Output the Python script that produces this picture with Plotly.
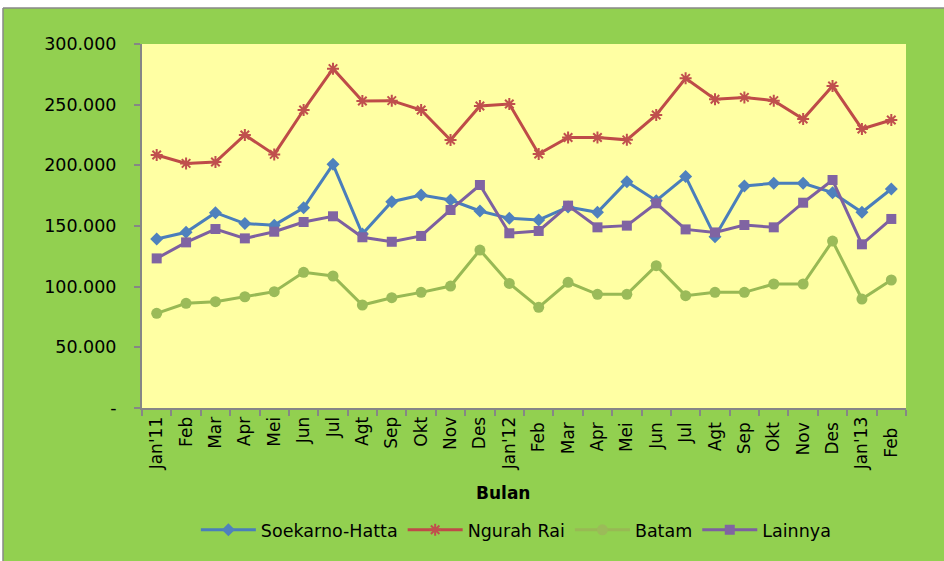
import plotly.graph_objects as go

bulan = ["Jan'11", "Feb", "Mar", "Apr", "Mei", "Jun", "Jul", "Agt", "Sep", "Okt", "Nov", "Des",
         "Jan'12", "Feb ", "Mar ", "Apr ", "Mei ", "Jun ", "Jul ", "Agt ", "Sep ", "Okt ", "Nov ", "Des ",
         "Jan'13", "Feb  "]

soekarno_hatta = [139300, 144800, 161000, 152000, 150700, 165000, 200800, 143400, 170000, 175500, 171400, 162400,
                  156300, 155000, 165700, 161300, 186500, 170900, 190700, 141200, 183000, 185200, 185200, 177500,
                  161300, 180500]
ngurah_rai = [208500, 201600, 202700, 225000, 209000, 245600, 279700, 253000, 253300, 245600, 220900, 248900,
              250500, 209300, 223000, 223000, 221000, 241500, 271700, 254400, 256000, 253300, 238200, 265400,
              230000, 237400]
batam = [78000, 86300, 87600, 91700, 95900, 111800, 108800, 84900, 90900, 95300, 100500, 130200,
         102700, 83000, 103600, 93700, 93700, 117300, 92600, 95300, 95300, 102200, 102200, 137600,
         89800, 105500]
lainnya = [123300, 136500, 147500, 139800, 145300, 153300, 158000, 140700, 137000, 141800, 163200, 183800,
           144000, 145900, 166800, 148900, 150300, 168700, 147200, 144700, 150800, 148900, 169200, 187900,
           134900, 155800]

y_tick_vals = [0, 50000, 100000, 150000, 200000, 250000, 300000]
y_tick_text = ["-", "50.000", "100.000", "150.000", "200.000", "250.000", "300.000"]

FONT = "DejaVu Sans"

fig = go.Figure()
fig.add_trace(go.Scatter(x=bulan, y=soekarno_hatta, name="Soekarno-Hatta", mode="lines+markers",
                         line=dict(color="#4A7EBB", width=3),
                         marker=dict(symbol="diamond", size=10, color="#4F81BD")))
fig.add_trace(go.Scatter(x=bulan, y=ngurah_rai, name="Ngurah Rai", mode="lines+markers",
                         line=dict(color="#BE4B48", width=3),
                         marker=dict(symbol="asterisk-open", size=10, color="#C0504D",
                                     line=dict(color="#C0504D", width=2))))
fig.add_trace(go.Scatter(x=bulan, y=batam, name="Batam", mode="lines+markers",
                         line=dict(color="#98B954", width=3),
                         marker=dict(symbol="circle", size=11, color="#9BBB59")))
fig.add_trace(go.Scatter(x=bulan, y=lainnya, name="Lainnya", mode="lines+markers",
                         line=dict(color="#7D60A0", width=3),
                         marker=dict(symbol="square", size=10, color="#8064A2")))

shapes = [
    # white strips at top and left
    dict(type="rect", xref="paper", yref="paper", x0=-0.3, x1=1.3, y0=400/364, y1=1.3,
         fillcolor="white", line=dict(width=0), layer="above"),
    dict(type="rect", xref="paper", yref="paper", x0=-0.3, x1=-139/764, y0=-0.6, y1=1.3,
         fillcolor="white", line=dict(width=0), layer="above"),
    # grey border
    dict(type="line", xref="paper", yref="paper", x0=-139/764, x1=1.3, y0=400/364, y1=400/364,
         line=dict(color="#888888", width=1.5), layer="above"),
    dict(type="line", xref="paper", yref="paper", x0=-139/764, x1=-139/764, y0=-0.6, y1=400/364,
         line=dict(color="#888888", width=1.5), layer="above"),
]

fig.update_layout(
    width=944, height=561,
    margin=dict(l=142, r=38, t=44, b=153),
    paper_bgcolor="#92D050",
    plot_bgcolor="#FFFFA3",
    font=dict(family=FONT, size=17, color="black"),
    showlegend=True,
    legend=dict(orientation="h", x=0.49, xanchor="center", y=-0.335, yanchor="middle",
                font=dict(family=FONT, size=17.5, color="black"), bgcolor="rgba(0,0,0,0)",
                itemwidth=55, tracegroupgap=0),
    hovermode=False,
    shapes=shapes,
    annotations=[dict(text="<b>Bulan</b>", xref="paper", yref="paper", x=0.473, y=-0.2335,
                      showarrow=False, xanchor="center", yanchor="middle",
                      font=dict(family=FONT, size=17, color="black"))],
)

fig.update_xaxes(type="category", tickangle=-90, showgrid=False,
                 showline=True, linecolor="#868686", linewidth=2,
                 ticks="outside", ticklen=6, tickcolor="#868686", tickwidth=1.5,
                 tickson="boundaries", range=[-0.5, len(bulan) - 0.5],
                 tickfont=dict(family=FONT, size=17, color="black"))
fig.update_yaxes(range=[0, 300000], tickvals=y_tick_vals, ticktext=y_tick_text, showgrid=False,
                 zeroline=False, showline=True, linecolor="#868686", linewidth=2,
                 ticks="outside", ticklen=6, tickcolor="#868686", tickwidth=1.5,
                 ticklabelstandoff=14,
                 tickfont=dict(family=FONT, size=17.5, color="black"))

fig.write_html("out.html", config={"displayModeBar": False},
               post_script="document.body.style.margin='0';document.body.style.overflow='hidden';")
